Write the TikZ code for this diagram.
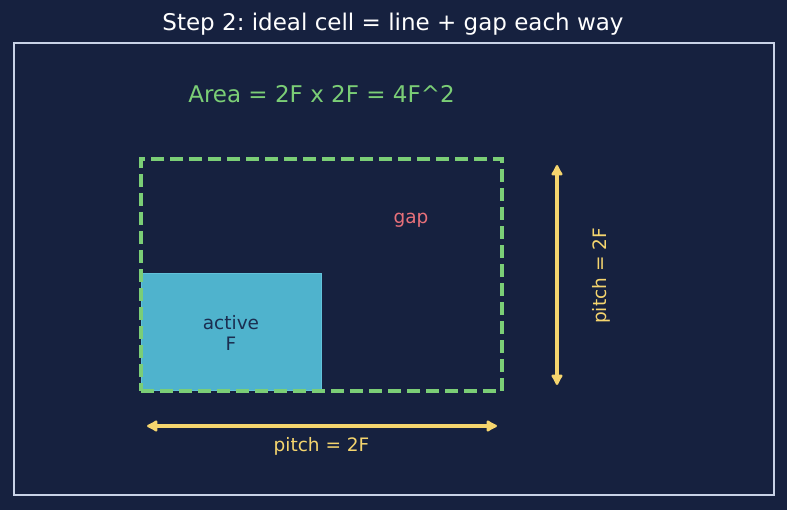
\documentclass[tikz,border=0pt]{standalone}
\usepackage{fontspec}
\setmainfont{DejaVu Sans}
\usetikzlibrary{arrows.meta}
\frenchspacing
\definecolor{bgnavy}{HTML}{16213F}
\definecolor{framegrey}{HTML}{C8D2E6}
\definecolor{cellgreen}{HTML}{7BCE76}
\definecolor{activecyan}{HTML}{4FB3CD}
\definecolor{activeedge}{HTML}{62C2DA}
\definecolor{activetext}{HTML}{1B2E50}
\definecolor{pitchyellow}{HTML}{F5D56E}
\definecolor{gapred}{HTML}{E8707A}
\begin{document}
\begin{tikzpicture}[
        x=1pt, y=1pt,
        every node/.style={font=\fontsize{18.5}{21}\selectfont, align=center, inner sep=0pt},
        big/.style={font=\fontsize{23}{27}\selectfont},
        cellbox/.style={rectangle, draw=cellgreen, line width=3.6pt, dash pattern=on 13pt off 6pt, minimum width=361pt, minimum height=232pt},
        activebox/.style={rectangle, fill=activecyan, draw=activeedge, line width=1pt, minimum width=180pt, minimum height=117pt},
        arr/.style={{Latex[length=13pt,width=14pt,round]}-{Latex[length=13pt,width=14pt,round]}, line width=3.6pt, pitchyellow}
    ]
    \fill[bgnavy] (0,0) rectangle (787,510);
    \useasboundingbox (0,0) rectangle (787,510);
    \draw[framegrey, line width=1.5pt] (14,15) rectangle (774,467);
    \node[big, text=white] (title) at (393, 486) {Step 2: ideal cell = line + gap each way};
    \node[big, text=cellgreen] (area) at (321.5, 416) {Area = 2F x 2F = 4F\^{}2};
    \node[activebox] (active) at (231, 177.5) {};
    \node[text=activetext] (activelbl) at (active.center) {active\\F};
    \node[cellbox] (cell) at (321.5, 235) {};
    \node[text=gapred] (gap) at (411, 290) {gap};
    % pitch arrows
    \coordinate (vtop) at (557, 345);
    \coordinate (vbot) at (557, 125);
    \coordinate (hleft) at (147, 84);
    \coordinate (hright) at (497, 84);
    \draw[arr] (vtop) -- (vbot);
    \draw[arr] (hleft) -- (hright);
    \node[text=pitchyellow, rotate=90] (vpitch) at (601, 234) {pitch = 2F};
    \node[text=pitchyellow] (hpitch) at (321.5, 64) {pitch = 2F};
\end{tikzpicture}
\end{document}
